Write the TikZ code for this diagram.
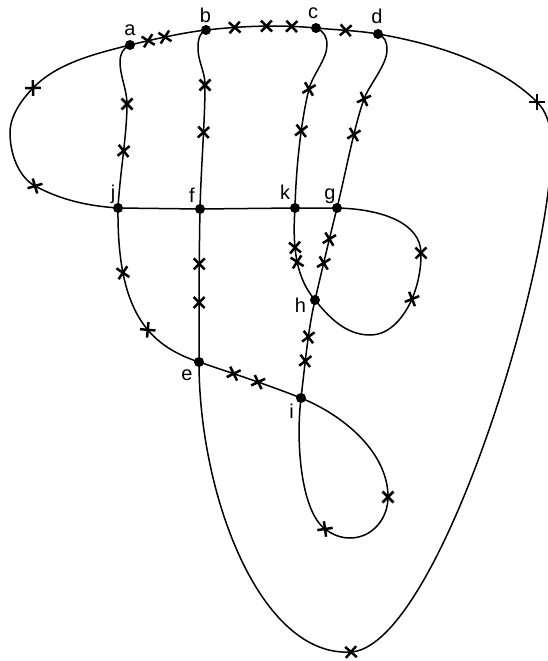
\documentclass[tikz,border=0pt]{standalone}
\usepackage{fontspec}
\setmainfont{Liberation Sans}
\usetikzlibrary{shapes.misc}
\begin{document}
\begin{tikzpicture}[x=1pt,y=-1pt,line width=1.5pt,
  dot/.style={circle,fill,inner sep=0pt,minimum size=10pt},
  xm/.style={draw,cross out,minimum size=8.5pt,inner sep=0pt,line width=2.5pt,sloped},
  lbl/.style={font=\fontsize{20}{20}\selectfont,inner sep=0pt,anchor=base}]
\useasboundingbox (0,0) rectangle (547,661);
% vertices
\node[dot] (a) at (130,45) {};
\node[dot] (b) at (206,30) {};
\node[dot] (c) at (316,28) {};
\node[dot] (d) at (378,34) {};
\node[dot] (j) at (118,208) {};
\node[dot] (f) at (200,209) {};
\node[dot] (k) at (295,208) {};
\node[dot] (g) at (337,208) {};
\node[dot] (h) at (315,300) {};
\node[dot] (e) at (199,362) {};
\node[dot] (i) at (301,398) {};
% labels
\node[lbl] (la) at (130,35.5) {a};
\node[lbl] (lb) at (205.5,23) {b};
\node[lbl] (lc) at (313,18.5) {c};
\node[lbl] (ld) at (377,23.5) {d};
\node[lbl] (lj) at (113,199) {j};
\node[lbl] (lf) at (192,202) {f};
\node[lbl] (lk) at (285,199) {k};
\node[lbl] (lg) at (330,199) {g};
\node[lbl] (lh) at (300.5,312) {h};
\node[lbl] (le) at (187,380) {e};
\node[lbl] (li) at (291.5,418) {i};
% left loop j -> a
\draw (j.center) .. controls +(-28,-2) and +(28,15) .. (35,186) node[xm,pos=1] (x1) {}
  .. controls +(-17,-9.5) and +(0,20) .. (10,133)
  .. controls +(0,-17) and +(-12,12.5) .. (33,88) node[xm,pos=1] (x2) {}
  .. controls +(24,-25) and +(-34,8.5) .. (a.center);
% top a-b-c-d
\draw (a.center) .. controls +(25,-6) and +(-25,3) .. (b.center)
  node[xm,pos=.24] (x3) {} node[xm,pos=.46] (x4) {};
\draw (b.center) .. controls +(37,-4) and +(-37,-3.5) .. (c.center)
  node[xm,pos=.26] (x5) {} node[xm,pos=.55] (x6) {} node[xm,pos=.78] (x7) {};
\draw (c.center) .. controls +(20,1.9) and +(-20,-3.4) .. (d.center)
  node[xm,pos=.48] (x8) {};
% big outer curve d -> e
\draw (d.center) .. controls +(55,9.4) and +(-39,-39) .. (537,102) node[xm,pos=1] (x9) {}
  .. controls +(18,18) and +(2,-25) .. (550,175)
  .. controls +(-15,155) and +(79,-5) .. (351,652) node[xm,pos=1] (x10) {}
  .. controls +(-91,5.5) and +(0,133) .. (e.center);
% verticals
\draw (f.center) .. controls +(-1,50) and +(0,-50) .. (e.center)
  node[xm,pos=.36] (x11) {} node[xm,pos=.61] (x12) {};
\draw (b.center) .. controls +(-7,3) and +(0,-8) .. (198,48)
  .. controls +(0,14) and +(0,-14) .. (205,85) node[xm,pos=1] (x13) {}
  .. controls +(0,35) and +(1,-40) .. (f.center) node[xm,pos=.4] (x14) {};
\draw (a.center) .. controls +(-7,3) and +(0,-8) .. (120,62)
  .. controls +(0,14) and +(0,-14) .. (127,104) node[xm,pos=1] (x15) {}
  .. controls +(0,30) and +(2,-35) .. (j.center) node[xm,pos=.47] (x16) {};
\draw (j.center) .. controls +(-1,102) and +(-52,-17) .. (e.center)
  node[xm,pos=.25] (x17) {} node[xm,pos=.6] (x18) {};
\draw (e.center) .. controls +(34,11.5) and +(-34,-13.5) .. (i.center)
  node[xm,pos=.34] (x19) {} node[xm,pos=.58] (x20) {};
% loop at i
\draw (i.center) .. controls +(42,17) and +(0,-45) .. (388,497) node[xm,pos=1] (x21) {}
  .. controls +(0,22) and +(22,0) .. (350,538)
  .. controls +(-9,0) and +(8,6) .. (325,529) node[xm,pos=1] (x22) {}
  .. controls +(-24,-18) and +(-5.4,45) .. (i.center);
\draw (i.center) .. controls +(4,-33) and +(-7,30) .. (h.center)
  node[xm,pos=.37] (x23) {} node[xm,pos=.61] (x24) {};
\draw (h.center) .. controls +(7,-30) and +(-8,32) .. (g.center)
  node[xm,pos=.41] (x25) {} node[xm,pos=.67] (x26) {};
\draw (d.center) .. controls +(7,3) and +(0,-8) .. (387,50)
  .. controls +(0,15) and +(5,-14) .. (364,99) node[xm,pos=1] (x27) {}
  .. controls +(-10,28) and +(8,-32) .. (g.center) node[xm,pos=.35] (x28) {};
\draw (c.center) .. controls +(8,3) and +(0,-8) .. (327,45)
  .. controls +(0,14) and +(3.5,-14) .. (309,89) node[xm,pos=1] (x29) {}
  .. controls +(-8,32) and +(1,-40) .. (k.center) node[xm,pos=.38] (x30) {};
\draw (k.center) .. controls +(-3,42) and +(-18,-21) .. (h.center)
  node[xm,pos=.35] (x31) {} node[xm,pos=.5] (x32) {};
% loop at g
\draw (g.center) .. controls +(45,1) and +(-0.5,-30) .. (421,253) node[xm,pos=1] (x33) {}
  .. controls +(0.3,15) and +(6,-14) .. (412,299) node[xm,pos=1] (x34) {}
  .. controls +(-8,18) and +(20,0) .. (370,335)
  .. controls +(-25,0) and +(13,16) .. (h.center);
% horizontal
\draw (j.center) -- (f.center) -- (k.center) -- (g.center);
\end{tikzpicture}
\end{document}
